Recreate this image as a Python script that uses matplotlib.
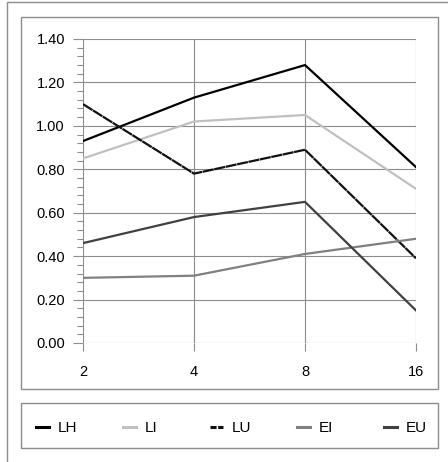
import matplotlib
matplotlib.use('Agg')
import matplotlib.pyplot as plt
from matplotlib.patches import Rectangle
from matplotlib.lines import Line2D
from matplotlib.ticker import MultipleLocator, FormatStrFormatter

plt.rcParams['font.family'] = ['Liberation Sans', 'DejaVu Sans']

# data
categories = ['2', '4', '8', '16']
lh = [0.93, 1.13, 1.28, 0.81]
li = [0.85, 1.02, 1.05, 0.71]
lu = [1.10, 0.78, 0.89, 0.39]
ei = [0.30, 0.31, 0.41, 0.48]
eu = [0.46, 0.58, 0.65, 0.15]

W, H = 448, 462
fig = plt.figure(figsize=(W / 100, H / 100), dpi=100)


def fx(px):
    return px / W


def fy(py):
    return 1 - py / H


box_col = '#8c8c8c'
# outer border (runs off the right and bottom edge), chart box, legend box
fig.patches.append(Rectangle((fx(7), fy(470)), fx(460), fy(2) - fy(470),
                             transform=fig.transFigure, fill=False,
                             edgecolor=box_col, linewidth=1))
fig.patches.append(Rectangle((fx(21), fy(389)), fx(438 - 21), fy(17) - fy(389),
                             transform=fig.transFigure, fill=False,
                             edgecolor=box_col, linewidth=1))
fig.patches.append(Rectangle((fx(21), fy(448)), fx(438 - 21), fy(403) - fy(448),
                             transform=fig.transFigure, fill=False,
                             edgecolor=box_col, linewidth=1))

ax = fig.add_axes([fx(83), fy(343), fx(416 - 83), fy(39) - fy(343)])
x = range(len(categories))

series = [
    ('LH', lh, dict(color='black')),
    ('LI', li, dict(color='#c0c0c0')),
    ('LU', lu, dict(color='#111111', dashes=(5, 0.25))),
    ('EI', ei, dict(color='#808080')),
    ('EU', eu, dict(color='#404040')),
]
for name, vals, style in series:
    ax.plot(x, vals, linewidth=1.6, label=name, **style)

ax.set_xlim(0, len(categories) - 1)
ax.set_ylim(0, 1.4)
ax.set_xticks(list(x))
ax.set_xticklabels(categories)
ax.yaxis.set_major_locator(MultipleLocator(0.2))
ax.yaxis.set_minor_locator(MultipleLocator(0.04))
ax.yaxis.set_major_formatter(FormatStrFormatter('%.2f'))

ax.grid(True, which='major', color=box_col, linewidth=0.8)
ax.set_axisbelow(True)
for s in ax.spines.values():
    s.set_visible(False)

ax.tick_params(axis='y', which='major', length=7, width=0.8, color=box_col,
               labelsize=10.5, pad=6)
ax.tick_params(axis='y', which='minor', length=4, width=0.8, color=box_col)
ax.tick_params(axis='x', length=6, width=0.8, color=box_col,
               labelsize=10.5, pad=10)

# legend entries spread evenly across the legend box
for i, (name, vals, style) in enumerate(series):
    st = dict(style)
    if 'dashes' in st:
        st['dashes'] = (2, 0.5)
    h = Line2D([], [], linewidth=2.2, **st)
    fig.legend([h], [name], loc='center left',
               bbox_to_anchor=(fx(36 + 87 * i), fy(428)),
               frameon=False, fontsize=11, handlelength=0.85,
               handletextpad=0.55, borderpad=0, borderaxespad=0)

plt.savefig('out.png', dpi=100)
plt.close()
